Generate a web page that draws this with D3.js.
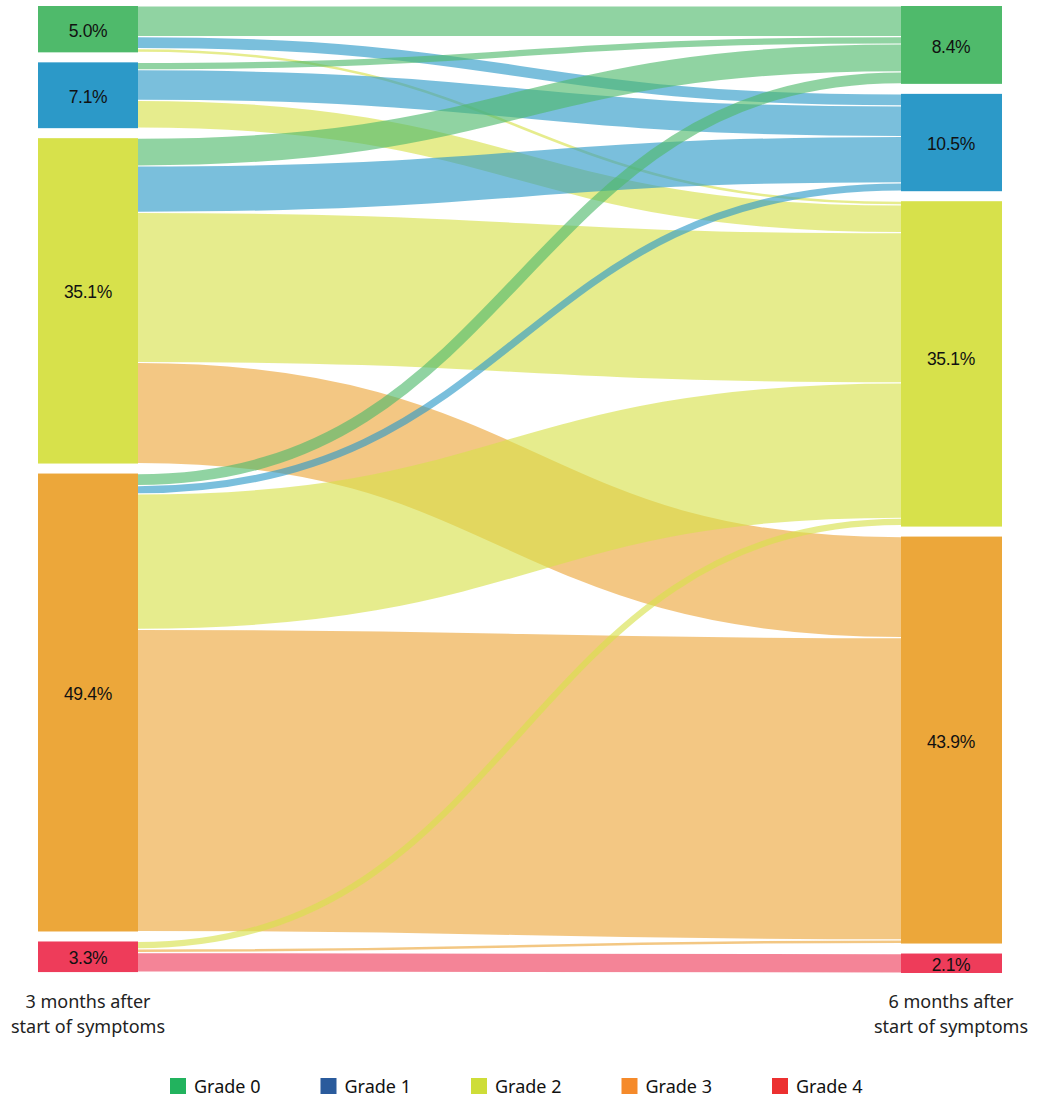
<!DOCTYPE html>
<html>
<head>
<meta charset="utf-8">
<script src="https://cdn.jsdelivr.net/npm/d3@7"></script>
<style>
  body { margin: 0; background: #fff; }
  svg { display: block; }
</style>
</head>
<body>
<svg width="1047" height="1099"></svg>
<script>
// grades and shares (in %) at both time points
const grades = ['Grade 0', 'Grade 1', 'Grade 2', 'Grade 3', 'Grade 4']
const share3m = [5.0, 7.1, 35.1, 49.4, 3.3]
const share6m = [8.4, 10.5, 35.1, 43.9, 2.1]
// flows[i][j] = % moving from grade i (3 months) to grade j (6 months)
const flows = [
  [3.3, 1.3, 0.4, 0, 0],
  [0.8, 3.3, 3.0, 0, 0],
  [3.0, 5.0, 16.2, 10.9, 0],
  [1.3, 0.9, 14.6, 32.6, 0],
  [0, 0, 0.8, 0.4, 2.1]
]
const columnLabels = [
  ['3 months after', 'start of symptoms'],
  ['6 months after', 'start of symptoms']
]

const nodeColors = ['#4fba6b', '#2c99c8', '#d7e14b', '#eca73a', '#ee3c5a']
const legendColors = ['#22b35e', '#2a5b9c', '#cedd38', '#f58a2a', '#ec3030']

const svg = d3.select('svg')
const marginTop = 6,
  gap = 10,
  nodeW = 100

const y = d3.scaleLinear().domain([0, 100]).range([0, 927])
const x = d3.scalePoint().domain([0, 1]).range([38, 901])

// stack nodes in each column
function layout(shares, col) {
  let acc = marginTop
  return shares.map((v, i) => {
    const n = { i, col, value: v, x0: x(col), y0: acc, h: y(v) }
    acc += n.h + gap
    return n
  })
}
const leftNodes = layout(share3m, 0)
const rightNodes = layout(share6m, 1)

// link positions: sorted by target at the source, by source at the target
const links = []
flows.forEach((row, i) => {
  row.forEach((v, j) => {
    if (!v) return
    const sOff = d3.sum(row.slice(0, j), y)
    const tOff = d3.sum(flows.slice(0, i), (r) => y(r[j]))
    const w = y(v)
    links.push({
      i, j, w,
      sy: leftNodes[i].y0 + sOff + w / 2,
      ty: rightNodes[j].y0 + tOff + w / 2
    })
  })
})

const linkGen = d3.linkHorizontal()
  .source((d) => [x(0) + nodeW, d.sy])
  .target((d) => [x(1), d.ty])

svg.append('g')
  .selectAll('path')
  .data(links)
  .enter()
  .append('path')
  .attr('d', linkGen)
  .style('fill', 'none')
  .style('stroke', (d) => nodeColors[d.j])
  .style('stroke-opacity', 0.63)
  .style('stroke-width', (d) => Math.max(1, d.w - 1.2))

// nodes
const node = svg.append('g')
  .selectAll('g')
  .data(leftNodes.concat(rightNodes))
  .enter()
  .append('g')
  .attr('transform', (d) => `translate(${d.x0},${d.y0})`)

node.append('rect')
  .attr('width', (d) => (d.col ? nodeW + 1 : nodeW))
  .attr('height', (d) => d.h)
  .style('fill', (d) => nodeColors[d.i])

// a few labels sit a little above the middle of their node
function labelY(d) {
  if (d.col === 0 && d.h > 300) return d.h / 2 - 9
  if (d.col === 1 && d.i === 2) return d.h / 2 - 5
  return d.h / 2 + 1.5
}

node.append('text')
  .attr('x', nodeW / 2)
  .attr('y', labelY)
  .attr('dy', '0.35em')
  .style('text-anchor', 'middle')
  .style('font-family', '"Liberation Sans", Arial, sans-serif')
  .style('font-size', '17.5px')
  .style('letter-spacing', '-0.3px')
  .style('fill', '#111')
  .text((d) => d.value.toFixed(1) + '%')

// column captions
columnLabels.forEach((lines, col) => {
  const t = svg.append('text')
    .attr('x', x(col) + nodeW / 2)
    .attr('y', 1008)
    .style('text-anchor', 'middle')
    .style('font-family', '"Noto Sans", "Open Sans", sans-serif')
    .style('font-size', '18px')
    .style('fill', '#222')
  lines.forEach((s, k) => {
    t.append('tspan').attr('x', x(col) + nodeW / 2).attr('dy', k ? 25 : 0).text(s)
  })
})

// legend
const legend = svg.append('g')
  .selectAll('g')
  .data(grades)
  .enter()
  .append('g')
  .attr('transform', (d, i) => `translate(${170 + i * 150.5},1078)`)

legend.append('rect')
  .attr('width', 16)
  .attr('height', 16)
  .style('fill', (d, i) => legendColors[i])

legend.append('text')
  .attr('x', 24)
  .attr('y', 8.5)
  .attr('dy', '0.35em')
  .style('font-family', '"Noto Sans", "Open Sans", sans-serif')
  .style('font-size', '18px')
  .style('fill', '#111')
  .text((d) => d)
</script>
</body>
</html>
